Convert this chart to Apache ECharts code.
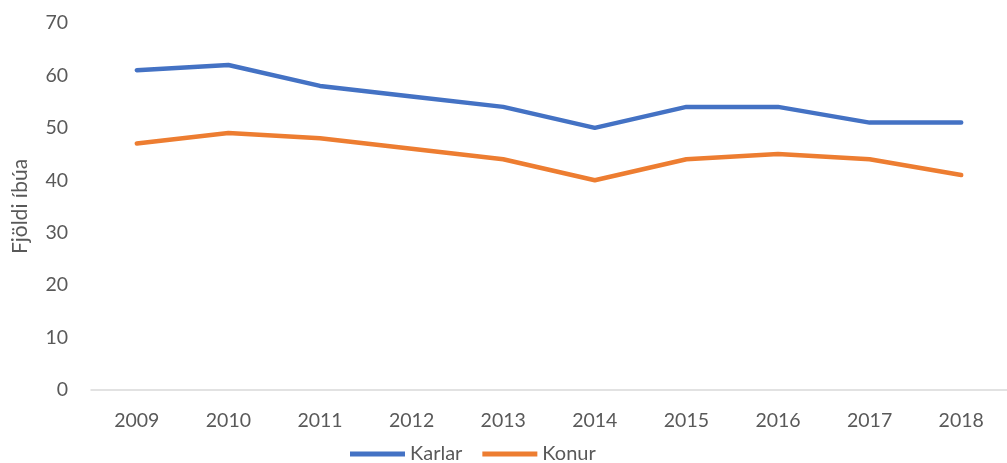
<!DOCTYPE html>
<html><head><meta charset="utf-8">
<script src="https://cdn.jsdelivr.net/npm/echarts@6/dist/echarts.min.js"></script>
<style>html,body{margin:0;padding:0;background:#fff}#c{width:1007px;height:463px}</style>
</head><body><div id="c"></div>
<script>
const years = ['2009','2010','2011','2012','2013','2014','2015','2016','2017','2018'];
const karlar = [61, 62, 58, 56, 54, 50, 54, 54, 51, 51];
const konur = [47, 49, 48, 46, 44, 40, 44, 45, 44, 41];
const yAxisName = 'Fjöldi íbúa';
const font = 'Lato, "Open Sans", sans-serif';
const chart = echarts.init(document.getElementById('c'));
chart.setOption({
  animation: false,
  grid: {left: 91, right: -12, top: 23, bottom: 73, containLabel: false},
  legend: {
    left: 350, top: 444, padding: 0,
    itemWidth: 55, itemHeight: 5, itemGap: 20, icon: 'rect',
    textStyle: {fontFamily: font, fontSize: 20, lineHeight: 20, color: '#595959'},
    data: ['Karlar', 'Konur']
  },
  xAxis: {
    type: 'category', data: years, boundaryGap: true,
    axisLine: {lineStyle: {color: '#d9d9d9', width: 1.5}},
    axisTick: {show: false},
    axisLabel: {fontFamily: font, fontSize: 19.5, color: '#595959', margin: 21}
  },
  yAxis: {
    type: 'value', min: 0, max: 70, interval: 10,
    name: yAxisName, nameLocation: 'middle', nameGap: 60,
    nameTextStyle: {fontFamily: font, fontSize: 21, color: '#595959'},
    axisLine: {show: false}, axisTick: {show: false},
    splitLine: {show: false},
    axisLabel: {fontFamily: font, fontSize: 19.5, color: '#595959', margin: 23}
  },
  series: [
    {name: 'Karlar', type: 'line', data: karlar, symbol: 'none',
     lineStyle: {color: '#4472C4', width: 4.5, cap: 'round', join: 'round'}, itemStyle: {color: '#4472C4'}},
    {name: 'Konur', type: 'line', data: konur, symbol: 'none',
     lineStyle: {color: '#ED7D31', width: 4.5, cap: 'round', join: 'round'}, itemStyle: {color: '#ED7D31'}}
  ]
});
</script></body></html>
